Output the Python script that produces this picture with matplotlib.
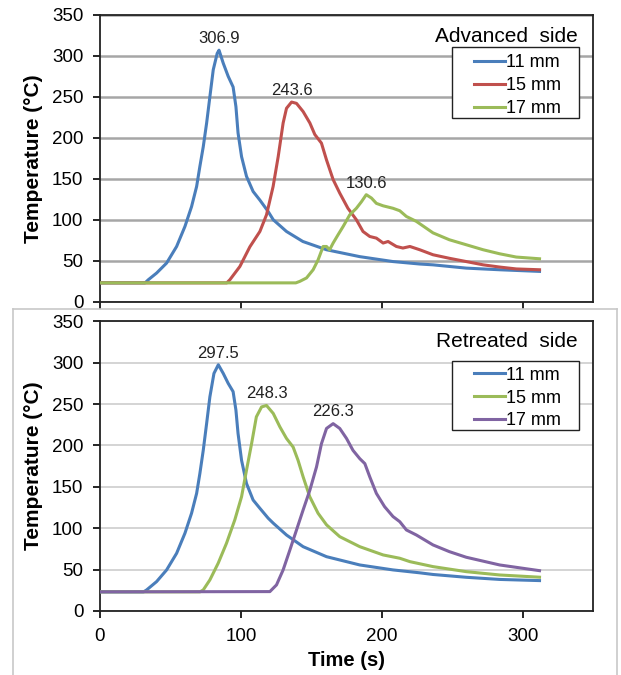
import matplotlib.pyplot as plt
from matplotlib.lines import Line2D
from matplotlib.patches import Rectangle

plt.rcParams.update({'font.family': ['Liberation Sans', 'DejaVu Sans'], 'font.size': 13})

# ---- Advanced side (top panel) ----
adv_11_t = [0, 32, 34.3, 40.2, 47.3, 54.4, 60.3, 65, 68.6, 70.9, 73.3, 75.7, 78, 80.4, 83.2, 84.5,
            87.5, 91, 94.5, 96.5, 98, 100.5, 104, 108.7, 113.5, 119.4, 123, 132.4, 144, 160.8,
            184.4, 208, 227, 236.4, 260, 283.7, 312]
adv_11_T = [23, 23, 26.8, 35, 47.2, 67.4, 91.8, 116, 140.6, 165, 189, 218, 250, 283, 303, 306.9,
            291, 275, 262, 238, 206, 177, 153, 134.5, 124, 110, 100, 85.7, 73.5, 63.4,
            55, 49, 46, 45, 41, 39, 37]

adv_15_t = [0, 90, 92.2, 99.3, 106.4, 113.5, 118.2, 122.9, 126.5, 130, 132.4, 136, 139.5, 144.2,
            149, 152.5, 157.2, 160.8, 165.5, 170.2, 176, 182, 186.7, 191.5, 196.2, 201, 204.5,
            210.4, 215, 220, 227, 236.4, 248, 260, 272, 283.7, 295.5, 312]
adv_15_T = [23, 23, 26.8, 43, 67, 85.7, 106, 140.6, 177, 218, 236, 243.6, 242, 232,
            218, 204, 193.5, 173, 149, 132.5, 114, 100, 85.7, 79.6, 77.6, 71.6, 73.5,
            67.4, 65.5, 67.4, 63.4, 57.3, 53, 49, 45, 42.3, 40, 39]

adv_17_t = [0, 139, 141.8, 146.6, 151.3, 154.8, 158.4, 160.8, 163, 165.5, 169, 172.6, 177.3, 182,
            185.6, 189, 192.7, 196.2, 201, 208, 212.8, 217.5, 224.6, 236.4, 248, 260, 272, 283.7,
            295.5, 312]
adv_17_T = [23, 23, 24.8, 29, 39, 51, 67.4, 67.4, 63.4, 71.6, 81.7, 91.8, 106, 114,
            122, 130.6, 126.5, 120, 117, 114, 111, 104, 98, 84, 75.6, 69.5, 63.4, 58.5,
            54.5, 52.4]

# ---- Retreated side (bottom panel) ----
ret_11_t = [0, 31, 33.1, 40.2, 47.3, 54.4, 60.3, 65, 68.6, 70.9, 73.3, 75.7, 78, 80.9, 84,
            87.5, 91, 94.5, 96.5, 98, 100.5, 104, 108.7, 113.5, 119.4, 123, 132.4, 144.2, 160.8,
            184.4, 208, 227, 236.4, 260, 283.7, 312]
ret_11_T = [23, 23, 25.3, 35.4, 49.5, 69.6, 93.8, 118, 142, 166, 194, 226.5, 258.6, 287, 297.5,
            287, 275, 265, 242.6, 214.5, 182, 154, 134, 124, 112, 106, 91.7, 77.6, 65.5,
            55.5, 49.5, 46, 44, 40.6, 38, 36.6]

ret_15_t = [0, 71, 73.3, 78, 83.9, 89.8, 95.7, 100.5, 104, 107.6, 111, 114.7, 118.2, 123,
            127.7, 132.4, 137.1, 140.6, 144.2, 148.9, 154.8, 160.8, 170.2, 184.4, 201, 212.8,
            220, 236.4, 260, 283.7, 312]
ret_15_T = [23, 23, 25.3, 37.4, 57.6, 81.7, 110, 138, 170, 202, 234.5, 246.5, 248.3, 238.6,
            222.4, 208.4, 198, 182, 162, 138, 118, 104, 89.7, 77.6, 67.6, 63.6,
            59.5, 53.5, 47.4, 43.4, 40.7]

ret_17_t = [0, 120.6, 125.3, 130, 134.8, 139.5, 144.2, 149, 153.7, 157.2, 160.8, 165.5, 170.2,
            175, 179.6, 184.4, 188, 191.5, 196.2, 202, 208, 212.8, 217.5, 224.6, 236.4, 248,
            260, 283.7, 312]
ret_17_T = [23, 23.3, 31.4, 49.5, 73.6, 97.8, 122, 146, 174, 202, 220.5, 226.3, 220.5,
            208.4, 194, 184, 178, 162, 142, 126, 114, 107.8, 97.8, 91.7, 79.7, 71.6,
            64.8, 55.5, 48.6]

sizes = ['11 mm', '15 mm', '17 mm']
adv_peaks = [306.9, 243.6, 130.6]
ret_peaks = [297.5, 248.3, 226.3]

c_blue, c_red, c_green, c_purple = '#4a7ebb', '#c0504d', '#9bbb59', '#8064a2'

fig = plt.figure(figsize=(6.21, 6.75), dpi=100)
ax1 = fig.add_axes([0.161, 0.553, 0.794, 0.425])
ax2 = fig.add_axes([0.161, 0.095, 0.794, 0.429])

# grey frame around the lower panel
for xs, ys in [([0.021, 0.021], [0.0, 0.542]), ([0.021, 0.993], [0.542, 0.542]),
               ([0.993, 0.993], [0.0, 0.542])]:
    fig.add_artist(Line2D(xs, ys, transform=fig.transFigure, color='#c8c8c8', lw=1.2))

lw = 2.2
ax1.plot(adv_11_t, adv_11_T, color=c_blue, lw=lw, label=sizes[0], zorder=3)
ax1.plot(adv_15_t, adv_15_T, color=c_red, lw=lw, label=sizes[1], zorder=3)
ax1.plot(adv_17_t, adv_17_T, color=c_green, lw=lw, label=sizes[2], zorder=3)

ax2.plot(ret_11_t, ret_11_T, color=c_blue, lw=lw, label=sizes[0], zorder=3)
ax2.plot(ret_15_t, ret_15_T, color=c_green, lw=lw, label=sizes[1], zorder=3)
ax2.plot(ret_17_t, ret_17_T, color=c_purple, lw=lw, label=sizes[2], zorder=3)

# peak labels
for ax, series, peaks in [(ax1, [(adv_11_t, adv_11_T), (adv_15_t, adv_15_T), (adv_17_t, adv_17_T)], adv_peaks),
                          (ax2, [(ret_11_t, ret_11_T), (ret_15_t, ret_15_T), (ret_17_t, ret_17_T)], ret_peaks)]:
    for (t, T), p in zip(series, peaks):
        tp = t[T.index(p)]
        ax.annotate(f'{p:.1f}', (tp, p), xytext=(0, 3), textcoords='offset points',
                    ha='center', va='bottom', fontsize=12, color='#222222')

# (axes, grid colour, title, title y, legend top, legend box y0, legend box height)
panels = [(ax1, '#a6a6a6', 'Advanced  side', 0.906, 0.862, 0.641, 0.248),
          (ax2, '#d4d4d4', 'Retreated  side', 0.910, 0.843, 0.624, 0.238)]
for ax, grid_c, title, ty, ly, by, bh in panels:
    ax.set_xlim(0, 350)
    ax.set_ylim(0, 350)
    ax.set_xticks([0, 100, 200, 300])
    ax.set_yticks(range(0, 351, 50))
    ax.grid(axis='y', color=grid_c, lw=1.8 if ax is ax1 else 1.4, zorder=0)
    ax.set_axisbelow(True)
    for s in ax.spines.values():
        s.set_linewidth(1.3)
        s.set_color('#222222')
    ax.tick_params(direction='out', length=5, width=1.2, labelsize=13.5, pad=7)
    ax.set_ylabel('Temperature (°C)', fontweight='bold', fontsize=15, labelpad=6)
    ax.text(0.968, ty, title, transform=ax.transAxes, ha='right', va='baseline', fontsize=15)
    ax.add_patch(Rectangle((0.714, by), 0.258, bh, transform=ax.transAxes, facecolor='white',
                           edgecolor='#222222', lw=1.0, zorder=4))
    leg = ax.legend(loc='upper left', bbox_to_anchor=(0.759, ly), fontsize=13,
                    frameon=False, handlelength=1.7, handletextpad=0.05,
                    labelspacing=0.32, borderpad=0, borderaxespad=0)
    leg.set_zorder(5)

ax1.set_xticklabels([])
ax2.set_xlabel('Time (s)', fontweight='bold', fontsize=14.5, labelpad=5)

plt.savefig('out.png', dpi=100)
